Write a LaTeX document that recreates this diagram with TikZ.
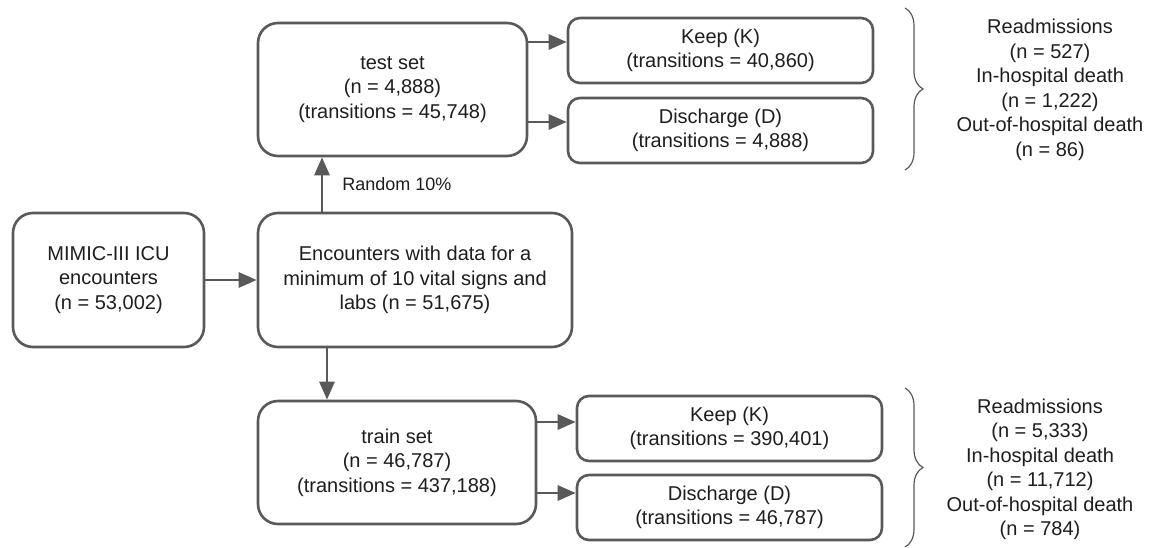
\documentclass[tikz,border=0pt]{standalone}
\usepackage{fontspec}
\setmainfont{Liberation Sans}
\usetikzlibrary{arrows.meta,decorations.pathreplacing}
\definecolor{edge}{HTML}{595959}
\definecolor{ink}{HTML}{1E1E1E}

\begin{document}
\begin{tikzpicture}[x=1pt,y=-1pt,
  box/.style={draw=edge, line width=2.6pt, rounded corners=20pt, fill=white,
    text=ink, align=center, inner sep=0pt,
    font=\fontsize{20}{24.5}\selectfont},
  outcome/.style={box, rounded corners=12pt, minimum width=305pt, minimum height=65pt},
  arr/.style={draw=edge, line width=2.8pt, -{Triangle[length=18pt,width=15pt]}},
  brc/.style={draw=edge, line width=1.2pt,
    decorate, decoration={brace, amplitude=18pt}},
  summary/.style={text=ink, align=center, inner sep=0pt,
    font=\fontsize{20}{24.5}\selectfont}
]
% canvas
\useasboundingbox (0,0) rectangle (1151,548);
\fill[white] (0,0) rectangle (1151,548);

% cohort selection
\node[box, minimum width=191pt, minimum height=134pt] (mimic) at (108.5,280)
  {MIMIC-III ICU\\encounters\\(n = 53,002)};
\node[box, minimum width=314pt, minimum height=134pt] (enc) at (415,280)
  {Encounters with data for a\\minimum of 10 vital signs and\\labs (n = 51,675)};

% split
\node[box, minimum width=269pt, minimum height=133pt] (test) at (392.5,89.5)
  {test set\\(n = 4,888)\\(transitions = 45,748)};
\node[box, minimum width=278pt, minimum height=123pt] (train) at (397,462.5)
  {train set\\(n = 46,787)\\(transitions = 437,188)};

% actions per set
\node[outcome] (keepT) at (720.5,50.5) {Keep (K)\\(transitions = 40,860)};
\node[outcome] (disT)  at (720.5,130.5) {Discharge (D)\\(transitions = 4,888)};
\node[outcome] (keepB) at (729.5,428.5) {Keep (K)\\(transitions = 390,401)};
\node[outcome] (disB)  at (729.5,507.5) {Discharge (D)\\(transitions = 46,787)};

% outcome counts
\node[summary] (testout) at (1050,90)
  {Readmissions\\(n = 527)\\In-hospital death\\(n = 1,222)\\Out-of-hospital death\\(n = 86)};
\node[summary] (trainout) at (1040,469.5)
  {Readmissions\\(n = 5,333)\\In-hospital death\\(n = 11,712)\\Out-of-hospital death\\(n = 784)};

% connector guides
\coordinate (upx) at (322,0);
\coordinate (downx) at (327,0);
\coordinate (r1) at (0,42);
\coordinate (r2) at (0,122);
\coordinate (r3) at (0,422);
\coordinate (r4) at (0,493);

\draw[arr] (mimic.east) -- (enc.west);
\draw[arr] (enc.north -| upx) -- (test.south -| upx)
  node[midway, right=19pt, text=ink, inner sep=0pt,
       font=\fontsize{18}{22}\selectfont] (rnd) {Random 10\%};
\draw[arr] (enc.south -| downx) -- (train.north -| downx);

\draw[arr] (test.east |- r1) -- (keepT.west |- r1);
\draw[arr] (test.east |- r2) -- (disT.west |- r2);
\draw[arr] (train.east |- r3) -- (keepB.west |- r3);
\draw[arr] (train.east |- r4) -- (disB.west |- r4);

% braces
\coordinate (bt1) at (905,8);
\coordinate (bt2) at (905,170);
\coordinate (bb1) at (905,388);
\coordinate (bb2) at (905,547);
\draw[brc] (bt1) -- (bt2);
\draw[brc] (bb1) -- (bb2);
\end{tikzpicture}
\end{document}
